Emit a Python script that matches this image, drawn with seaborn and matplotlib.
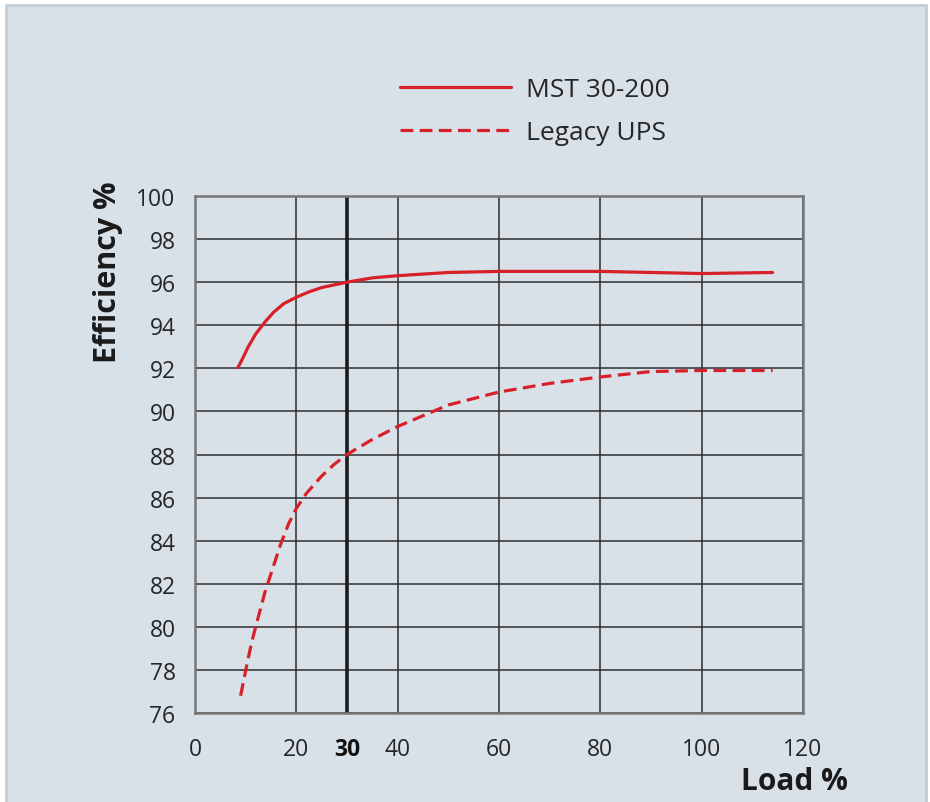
"""Efficiency vs load curve: MST 30-200 against a legacy UPS."""

import matplotlib.pyplot as plt
import pandas as pd
import seaborn as sns
from matplotlib.patches import Rectangle

# values
mst_load = [8.5, 9.5, 10.5, 12, 13.8, 15.5, 17.5, 20, 22.5, 25, 30, 35, 40,
            50, 60, 70, 80, 90, 100, 114]
mst_eff = [92.05, 92.5, 93.0, 93.6, 94.15, 94.6, 95.0, 95.3, 95.55, 95.75,
           96.0, 96.2, 96.3, 96.45, 96.5, 96.5, 96.5, 96.45, 96.4, 96.45]

legacy_load = [9, 10.2, 11.2, 12.2, 13.8, 15.6, 17, 18.5, 20, 22, 25, 27.5, 30,
               35, 40, 50, 60, 70, 80, 90, 100, 114]
legacy_eff = [76.8, 78.2, 79.3, 80.2, 81.6, 82.9, 83.9, 84.8, 85.5, 86.2, 87.0,
              87.55, 88.0, 88.7, 89.3, 90.3, 90.9, 91.3, 91.6, 91.85, 91.9, 91.9]

x_ticks = [0, 20, 30, 40, 60, 80, 100, 120]
y_ticks = list(range(76, 101, 2))

RED = "#d7202a"
BG = "#d9e1e8"
TEXT = "#262626"

sns.set_theme(style="white")
plt.rcParams["font.family"] = ["Open Sans", "DejaVu Sans"]

mst = pd.DataFrame({"load": mst_load, "eff": mst_eff})
legacy = pd.DataFrame({"load": legacy_load, "eff": legacy_eff})

fig = plt.figure(figsize=(9.3, 8.03), dpi=100, facecolor="white")
fig.patches.append(Rectangle((6 / 930, -0.05), 920 / 930, 1.05 - 6 / 803,
                             transform=fig.transFigure, facecolor=BG,
                             edgecolor="#c2cdd7", linewidth=2, zorder=-10))

ax = fig.add_axes([195 / 930, 1 - 714 / 803, 608 / 930, 517 / 803])
ax.set_facecolor(BG)

sns.lineplot(data=mst, x="load", y="eff", ax=ax, color=RED, linewidth=2.3,
             label="MST 30-200")
sns.lineplot(data=legacy, x="load", y="eff", ax=ax, color=RED, linewidth=2.3,
             dashes=False, linestyle=(0, (4, 2)), label="Legacy UPS")

ax.set_xlim(0, 120)
ax.set_ylim(76, 100)
ax.set_xticks(x_ticks)
ax.set_yticks(y_ticks)
ax.grid(True, color="#2e2e2e", linewidth=1.1)
ax.set_axisbelow(True)
ax.axvline(30, color="#1a1a1a", linewidth=2.6, zorder=1.5)

for spine in ax.spines.values():
    spine.set_color("#777777")
    spine.set_linewidth(1.8)

ax.tick_params(axis="x", length=0, pad=17, labelsize=16.5, labelcolor=TEXT)
ax.tick_params(axis="y", length=0, pad=14, labelsize=16.5, labelcolor=TEXT)
for lab in ax.get_xticklabels():
    if lab.get_text() == "30":
        lab.set_fontweight("bold")
        lab.set_color("#111111")

ax.set_xlabel("")
ax.set_ylabel("")
fig.text(848 / 930, 1 - 782 / 803, "Load %", ha="right", va="center",
         fontsize=21.5, fontweight="bold", color="#1a1a1a")
fig.text(108 / 930, 1 - 272 / 803, "Efficiency %", ha="center", va="center",
         rotation=90, fontsize=22, fontweight="bold", color="#1a1a1a")

ax.legend(loc="center left", bbox_to_anchor=(376 / 930, 1 - 112 / 803),
          bbox_transform=fig.transFigure, frameon=False, fontsize=19,
          handlelength=4.2, handletextpad=0.6, labelspacing=0.68,
          labelcolor=TEXT)

fig.savefig("out.png", dpi=100, facecolor=fig.get_facecolor())
